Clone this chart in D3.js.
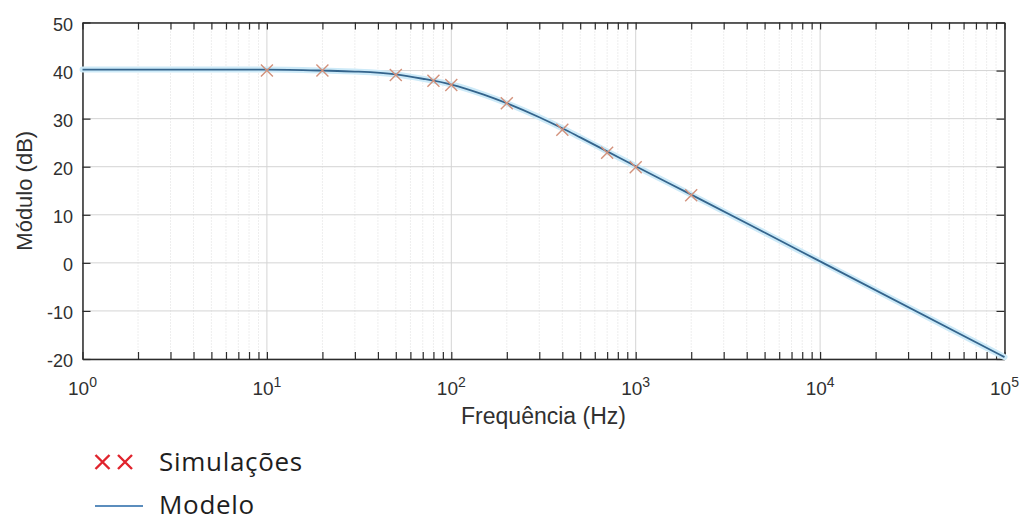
<!DOCTYPE html>
<html>
<head>
<meta charset="utf-8">
<script src="https://cdn.jsdelivr.net/npm/d3@7"></script>
<style>
  html, body { margin: 0; padding: 0; background: #fff; }
  svg { display: block; }
</style>
</head>
<body>
<svg id="chart" width="1021" height="523"></svg>
<script>
// Simulated operating points (frequency in Hz, magnitude in dB)
const simFreq = [10, 20, 50, 80, 100, 200, 400, 700, 1000, 2000];
const simGain = [40.0, 40.0, 39.1, 37.9, 37.0, 33.2, 27.7, 22.9, 19.9, 14.05];

// Model response sampled along the frequency axis
const modelFreq = [1, 10, 20, 30, 50, 70, 100, 150, 200, 300, 400, 500, 700, 1000, 2000, 5000, 10000, 100000];
const modelGain = [40.2, 40.2, 40.0, 39.8, 39.2, 38.3, 37.1, 35.0, 33.2, 30.3, 28.0, 26.1, 23.2, 20.1, 14.2, 6.3, 0.3, -19.6];

// Axis ticks
const xDecades = [0, 1, 2, 3, 4, 5];
const yTicks = [-20, -10, 0, 10, 20, 30, 40, 50];

const legendLabels = ["Simulações", "Modelo"];

const svg = d3.select("#chart");
const plotLeft = 82.5, plotRight = 1004.5, plotTop = 22.5, plotBottom = 359;

const x = d3.scaleLog().domain([1, 1e5]).range([plotLeft, plotRight]);
const y = d3.scaleLinear().domain([-20, 50]).range([plotBottom, plotTop]);

const font = "'Liberation Sans', Arial, sans-serif";
const gridColor = "#d4d4d4";

// Minor grid (dotted) at 2..9 within every decade
const minor = [];
for (let d = 0; d < 5; d++) for (let m = 2; m <= 9; m++) minor.push(m * Math.pow(10, d));
svg.append("g").selectAll("line").data(minor).join("line")
  .attr("x1", d => x(d)).attr("x2", d => x(d))
  .attr("y1", plotTop).attr("y2", plotBottom)
  .attr("stroke", "#dcdcdc").attr("stroke-width", 1)
  .attr("stroke-dasharray", "1,2");

// Major grid
const decadeVals = xDecades.map(p => Math.pow(10, p));
svg.append("g").selectAll("line").data(decadeVals).join("line")
  .attr("x1", d => x(d)).attr("x2", d => x(d))
  .attr("y1", plotTop).attr("y2", plotBottom)
  .attr("stroke", gridColor).attr("stroke-width", 1);
svg.append("g").selectAll("line").data(yTicks).join("line")
  .attr("x1", plotLeft).attr("x2", plotRight)
  .attr("y1", d => y(d)).attr("y2", d => y(d))
  .attr("stroke", gridColor).attr("stroke-width", 1);

// Axes (bottom/left carry labels, top/right close the box with ticks only)
const axisColor = "#2b2b2b";
const allX = decadeVals.concat(minor);
const xAxisB = d3.axisBottom(x).tickValues(allX).tickSize(-7).tickSizeOuter(0).tickFormat("");
const xAxisT = d3.axisTop(x).tickValues(allX).tickSize(-7).tickSizeOuter(0).tickFormat("");
const yAxisL = d3.axisLeft(y).tickValues(yTicks).tickSize(-8).tickSizeOuter(0).tickFormat("");
const yAxisR = d3.axisRight(y).tickValues(yTicks).tickSize(-8).tickSizeOuter(0).tickFormat("");

function styleAxis(g) {
  g.selectAll("path").attr("stroke", axisColor).attr("stroke-width", 1.5);
  g.selectAll("line").attr("stroke", axisColor).attr("stroke-width", 1.2);
}
svg.append("g").attr("transform", `translate(0,${plotBottom})`).call(xAxisB).call(styleAxis);
svg.append("g").attr("transform", `translate(0,${plotTop})`).call(xAxisT).call(styleAxis);
svg.append("g").attr("transform", `translate(${plotLeft},0)`).call(yAxisL).call(styleAxis);
svg.append("g").attr("transform", `translate(${plotRight},0)`).call(yAxisR).call(styleAxis);

// Y tick labels
svg.append("g").selectAll("text").data(yTicks).join("text")
  .attr("x", 73).attr("y", d => y(d) + 8)
  .attr("text-anchor", "end")
  .attr("font-family", font).attr("font-size", 18).attr("fill", "#303030")
  .text(d => d);

// X tick labels: 10 with superscript exponent
const xl = svg.append("g").selectAll("text").data(xDecades).join("text")
  .attr("x", d => x(Math.pow(10, d))).attr("y", 395)
  .attr("text-anchor", "middle")
  .attr("font-family", font).attr("font-size", 19).attr("fill", "#303030");
xl.append("tspan").text("10");
xl.append("tspan").attr("dy", -8).attr("font-size", 14).text(d => d);

// Axis titles
svg.append("text")
  .attr("x", (plotLeft + plotRight) / 2).attr("y", 424)
  .attr("text-anchor", "middle")
  .attr("font-family", font).attr("font-size", 23).attr("fill", "#303030")
  .text("Frequência (Hz)");
svg.append("text")
  .attr("transform", `translate(32,${(plotTop + plotBottom) / 2}) rotate(-90)`)
  .attr("text-anchor", "middle")
  .attr("font-family", font).attr("font-size", 22).attr("fill", "#303030")
  .text("Módulo (dB)");

// Model line with a soft halo
const model = modelFreq.map((f, i) => ({ f, g: modelGain[i] }));
const line = d3.line()
  .x(d => x(d.f)).y(d => y(d.g))
  .curve(d3.curveMonotoneX);
svg.append("path").datum(model)
  .attr("d", line).attr("fill", "none")
  .attr("stroke", "#cdeaf8").attr("stroke-width", 6).attr("stroke-linecap", "round");
svg.append("path").datum(model)
  .attr("d", line).attr("fill", "none")
  .attr("stroke", "#34648c").attr("stroke-width", 1.8);

// Simulation markers (x)
const sims = simFreq.map((f, i) => ({ f, g: simGain[i] }));
const cross = (s) => `M${-s},${-s}L${s},${s}M${-s},${s}L${s},${-s}`;
svg.append("g").selectAll("path").data(sims).join("path")
  .attr("transform", d => `translate(${x(d.f)},${y(d.g)})`)
  .attr("d", cross(6))
  .attr("fill", "none").attr("stroke", "#d3927c").attr("stroke-width", 1.4);

// Legend
const lg = svg.append("g");
[102.5, 125].forEach(cx => {
  lg.append("path").attr("transform", `translate(${cx},462)`)
    .attr("d", cross(7))
    .attr("fill", "none").attr("stroke", "#e0242d").attr("stroke-width", 2.4);
});
lg.append("line").attr("x1", 95).attr("x2", 143).attr("y1", 506).attr("y2", 506)
  .attr("stroke", "#5b8dbd").attr("stroke-width", 2.2);
lg.selectAll("text").data(legendLabels).join("text")
  .attr("x", 159).attr("y", (d, i) => 471 + i * 43)
  .attr("font-family", "'Open Sans', 'Noto Sans', sans-serif").attr("font-size", 26)
  .attr("letter-spacing", 0.7).attr("fill", "#1e1e1e")
  .text(d => d);
</script>
</body>
</html>
